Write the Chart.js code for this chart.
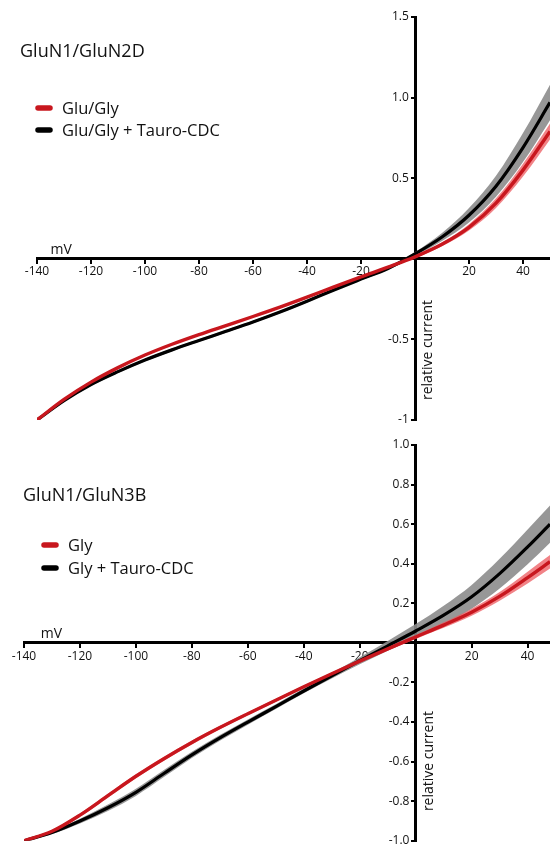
<!DOCTYPE html>
<html><head><meta charset="utf-8">
<script src="https://cdn.jsdelivr.net/npm/chart.js@4.4.1/dist/chart.umd.min.js"></script>
<style>
html,body{margin:0;padding:0;background:#fff;width:550px;height:851px;overflow:hidden}
canvas{position:absolute;left:0;display:block}
#c1{top:0}
#c2{top:432px}
</style></head><body>
<canvas id="c1" width="550" height="432"></canvas>
<canvas id="c2" width="550" height="419"></canvas>
<script>
// ---------- DATA ----------
// Panel A: GluN1/GluN2D
const voltTop = [-140,-130,-120,-110,-100,-90,-80,-70,-60,-50,-40,-30,-20,-10,0,10,20,30,40,50];
const gluGlyMean = [-1.0,-0.872,-0.765,-0.675,-0.597,-0.53,-0.47,-0.414,-0.358,-0.30,-0.238,-0.174,-0.112,-0.052,0.012,0.09,0.195,0.345,0.55,0.79];
const gluGlySem  = [0.005,0.006,0.006,0.006,0.006,0.006,0.006,0.006,0.006,0.006,0.006,0.005,0.005,0.005,0.008,0.012,0.02,0.03,0.04,0.05];
const gluGlyTauroMean = [-1.0,-0.88,-0.78,-0.70,-0.628,-0.565,-0.507,-0.45,-0.392,-0.33,-0.263,-0.193,-0.126,-0.06,0.03,0.135,0.27,0.45,0.69,0.97];
const gluGlyTauroSem  = [0.005,0.008,0.008,0.008,0.008,0.008,0.008,0.008,0.008,0.008,0.008,0.007,0.007,0.008,0.012,0.025,0.045,0.065,0.09,0.11];

// Panel B: GluN1/GluN3B
const voltBottom = [-140,-130,-120,-110,-100,-90,-80,-70,-60,-50,-40,-30,-20,-10,0,10,20,30,40,48];
const glyMean = [-1.0,-0.952,-0.87,-0.772,-0.674,-0.585,-0.503,-0.428,-0.358,-0.29,-0.222,-0.156,-0.092,-0.03,0.03,0.09,0.155,0.235,0.33,0.41];
const glySem  = [0.005,0.006,0.008,0.01,0.01,0.01,0.01,0.008,0.008,0.008,0.007,0.006,0.006,0.008,0.01,0.014,0.018,0.022,0.03,0.034];
const glyTauroMean = [-1.0,-0.958,-0.90,-0.833,-0.755,-0.66,-0.566,-0.48,-0.40,-0.322,-0.243,-0.166,-0.09,-0.015,0.06,0.14,0.233,0.35,0.485,0.60];
const glyTauroSem  = [0.005,0.008,0.012,0.016,0.018,0.018,0.016,0.014,0.013,0.012,0.012,0.014,0.018,0.025,0.035,0.048,0.06,0.075,0.088,0.094];

// Tick labels
const xTickValues = [-140,-120,-100,-80,-60,-40,-20,20,40];
const yTickValuesTop = [-1,-0.5,0.5,1,1.5];
const yTickLabelsTop = ['-1','-0.5','0.5','1.0','1.5'];
const yTickValuesBottom = [-1,-0.8,-0.6,-0.4,-0.2,0.2,0.4,0.6,0.8,1];
const yTickLabelsBottom = ['-1.0','-0.8','-0.6','-0.4','-0.2','0.2','0.4','0.6','0.8','1.0'];

// ---------- STYLE ----------
const RED = '#c8171e';
const RED_BAND = 'rgba(236,90,95,0.75)';
const BLACK = '#000000';
const GRAY_BAND = 'rgba(140,140,140,0.9)';
const FONT = '"Open Sans", "DejaVu Sans", sans-serif';

function pts(xs, ys, f) { return xs.map((x, i) => ({x: x, y: f ? f(i) : ys[i]})); }

const panelText = {
  id: 'panelText',
  afterDraw(chart, args, o) {
    const ctx = chart.ctx;
    const xs = chart.scales.x, ys = chart.scales.y;
    ctx.save();
    ctx.fillStyle = '#111';
    ctx.textAlign = 'left';
    ctx.textBaseline = 'alphabetic';
    ctx.font = '18px ' + FONT;
    ctx.fillText(o.title, o.titleX, o.titleY);
    ctx.font = '16.5px ' + FONT;
    o.legendItems.forEach((idx, i) => {
      const ds = chart.data.datasets[idx];
      const by = o.legendY + i * o.legendDy;
      ctx.strokeStyle = ds.borderColor;
      ctx.lineWidth = 5.5;
      ctx.lineCap = 'round';
      ctx.beginPath();
      ctx.moveTo(o.legendX + 3, by - o.swatchOff);
      ctx.lineTo(o.legendX + 15, by - o.swatchOff);
      ctx.stroke();
      ctx.fillText(ds.label, o.legendX + 27, by);
    });
    ctx.font = '14px ' + FONT;
    ctx.fillText('mV', xs.getPixelForValue(o.mvAt), ys.getPixelForValue(0) - 5);
    ctx.translate(xs.getPixelForValue(0) + 13, ys.getPixelForValue(o.rcAt));
    ctx.rotate(-Math.PI / 2);
    ctx.font = '14px ' + FONT;
    ctx.textBaseline = 'middle';
    ctx.fillText('relative current', 0, 0);
    ctx.restore();
  }
};

function makeChart(id, volt, rMean, rSem, bMean, bSem, labels, xMax, yMin, yMax, yVals, yLabels, pad, textOpts) {
  const datasets = [
    {label: labels[0], data: pts(volt, rMean), borderColor: RED, borderWidth: 3.4, order: 0, fill: false},
    {label: labels[1], data: pts(volt, bMean), borderColor: BLACK, borderWidth: 3.2, order: 1, fill: false},
    {label: 'r+', data: pts(volt, null, i => rMean[i] + rSem[i]), borderWidth: 0, borderColor: 'rgba(0,0,0,0)', backgroundColor: RED_BAND, fill: '+1', order: 2},
    {label: 'r-', data: pts(volt, null, i => rMean[i] - rSem[i]), borderWidth: 0, borderColor: 'rgba(0,0,0,0)', fill: false, order: 2},
    {label: 'b+', data: pts(volt, null, i => bMean[i] + bSem[i]), borderWidth: 0, borderColor: 'rgba(0,0,0,0)', backgroundColor: GRAY_BAND, fill: '+1', order: 3},
    {label: 'b-', data: pts(volt, null, i => bMean[i] - bSem[i]), borderWidth: 0, borderColor: 'rgba(0,0,0,0)', fill: false, order: 3}
  ];
  return new Chart(document.getElementById(id), {
    type: 'line',
    data: {datasets: datasets},
    options: {
      responsive: false,
      animation: false,
      devicePixelRatio: 1,
      layout: {padding: pad},
      elements: {point: {radius: 0}, line: {cubicInterpolationMode: 'monotone'}},
      plugins: {legend: {display: false}, tooltip: {enabled: false}, panelText: textOpts},
      scales: {
        x: {
          type: 'linear', min: -140, max: xMax, position: {y: 0},
          afterBuildTicks: s => { s.ticks = xTickValues.map(v => ({value: v})); },
          ticks: {font: {family: FONT, size: 12}, color: '#111', padding: 2, maxRotation: 0, autoSkip: false,
                  callback: v => String(v)},
          grid: {drawOnChartArea: false, drawTicks: true, tickLength: 4, color: '#000', lineWidth: 2},
          border: {display: true, color: '#000', width: 3}
        },
        y: {
          type: 'linear', min: yMin, max: yMax, position: {x: 0},
          afterBuildTicks: s => { s.ticks = yVals.map(v => ({value: v})); },
          ticks: {font: {family: FONT, size: 12}, color: '#111', autoSkip: false,
                  callback: v => yLabels[yVals.indexOf(v)] + '  '},
          grid: {drawOnChartArea: false, drawTicks: true, tickLength: 3, color: '#000', lineWidth: 2},
          border: {display: true, color: '#000', width: 3}
        }
      }
    },
    plugins: [panelText]
  });
}

makeChart('c1', voltTop, gluGlyMean, gluGlySem, gluGlyTauroMean, gluGlyTauroSem,
  ['Glu/Gly', 'Glu/Gly + Tauro-CDC'], 50, -1, 1.5, yTickValuesTop, yTickLabelsTop,
  {left: 37, top: 17, right: 0, bottom: 12},
  {title: 'GluN1/GluN2D', titleX: 20, titleY: 57, legendX: 35, legendY: 114, legendDy: 22, swatchOff: 6,
   legendItems: [0, 1], mvAt: -135, rcAt: -0.876});

makeChart('c2', voltBottom, glyMean, glySem, glyTauroMean, glyTauroSem,
  ['Gly', 'Gly + Tauro-CDC'], 48, -1, 1, yTickValuesBottom, yTickLabelsBottom,
  {left: 24, top: 13, right: 0, bottom: 4},
  {title: 'GluN1/GluN3B', titleX: 23, titleY: 69, legendX: 41, legendY: 119, legendDy: 23, swatchOff: 6,
   legendItems: [0, 1], mvAt: -134, rcAt: -0.85});
</script>
</body></html>
